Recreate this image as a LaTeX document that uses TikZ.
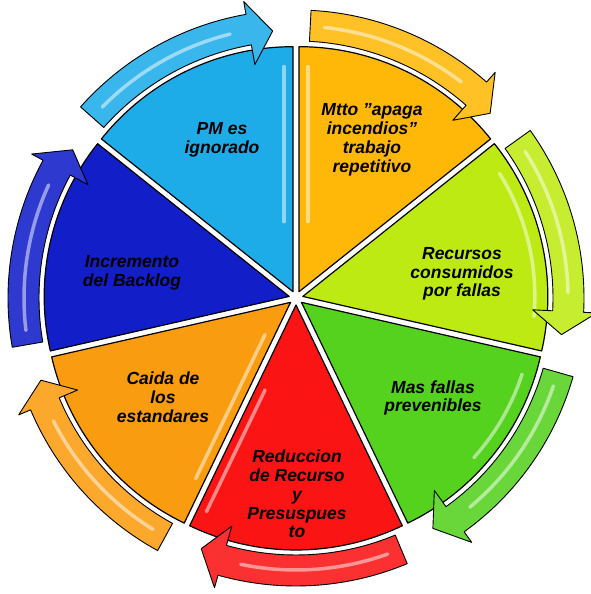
\documentclass[tikz,border=0pt]{standalone}
\usepackage{fontspec}
\setmainfont{Liberation Sans}
\usetikzlibrary{calc}
\definecolor{cPM}{RGB}{30,172,232}
\definecolor{cMtto}{RGB}{255,184,8}
\definecolor{cRec}{RGB}{190,234,20}
\definecolor{cMas}{RGB}{84,210,30}
\definecolor{cRed}{RGB}{250,20,20}
\definecolor{cCai}{RGB}{250,156,16}
\definecolor{cInc}{RGB}{18,30,200}
\tikzset{
  wedgebox/.style={draw=black, line width=1.2pt, line join=round},
  arrowshape/.style={draw=black, line width=0.9pt, line join=round},
  lbl/.style={align=center, text=black, inner sep=0pt,
    font=\fontsize{17.5}{18.8}\selectfont\bfseries\itshape},
  gloss/.style={white, opacity=0.5, line width=3.5pt, line cap=round}
}
\begin{document}
\begin{tikzpicture}[x=1pt,y=1pt]
\useasboundingbox (0,0) rectangle (590,594);
\begin{scope}[shift={(296,296)}]
  % wedges
  \foreach \k/\wc in {0/cMtto,1/cRec,2/cMas,3/cRed,4/cCai,5/cInc,6/cPM}{
    \pgfmathsetmacro\wa{90-\k*360/7}
    \pgfmathsetmacro\wb{\wa-360/7}
    \pgfmathsetmacro\wm{(\wa+\wb)/2}
    \filldraw[wedgebox, fill=\wc, shift={(\wm:7)}]
      (0,0) -- (\wa:245) arc[start angle=\wa, end angle=\wb, radius=245] -- cycle;
  }
  % glossy stripes on wedges
  \draw[gloss, shift={(115.71:7)}] (-9,70) -- (-9,225);
  \draw[gloss, shift={(64.29:7)}] (9,70) -- (9,225);
  \draw[gloss, shift={(-90:7)}] ($(-115.71:90)+(-25.71:9)$) -- ($(-115.71:225)+(-25.71:9)$);
  \draw[gloss, shift={(-141.43:7)}] ($(-115.71:40)+(-205.71:9)$) -- ($(-115.71:200)+(-205.71:9)$);
  \draw[gloss, shift={(12.86:7)}] (32:232) arc[start angle=32, end angle=-5, radius=232];
  \draw[gloss, shift={(-38.57:7)}] (-18:232) arc[start angle=-18, end angle=-42, radius=232];
  % arrows
  \foreach \k/\wc in {0/cMtto,1/cRec,2/cMas,3/cRed,4/cCai,5/cInc,6/cPM}{
    \pgfmathsetmacro\wa{90-\k*360/7}
    \pgfmathsetmacro\wb{\wa-360/7}
    \pgfmathsetmacro\aT{\wa-3}
    \pgfmathsetmacro\aH{\wb+10}
    \pgfmathsetmacro\aP{\wb+5}
    \pgfmathsetmacro\gS{\wa-6}
    \pgfmathsetmacro\gE{\wb+14}
    \filldraw[arrowshape, fill=\wc!88!white]
      (\aT:288) arc[start angle=\aT, end angle=\aH, radius=288]
      -- (\aH:301) -- (\aP:268) -- (\aH:237) -- (\aH:257)
      arc[start angle=\aH, end angle=\aT, radius=257] -- cycle;
    \draw[gloss] (\gS:272) arc[start angle=\gS, end angle=\gE, radius=272];
  }
\end{scope}
% labels
\node[lbl] (tPM)  at (222,454) {PM es\\ignorado};
\node[lbl] (tMtto) at (372,454) {Mtto "apaga\\incendios"\\trabajo\\repetitivo};
\node[lbl] (tRec) at (462,320) {Recursos\\consumidos\\por fallas};
\node[lbl] (tMas) at (433,196) {Mas fallas\\prevenibles};
\node[lbl] (tRed) at (297,100) {Reduccion\\de Recurso\\y\\Presuspues\\to};
\node[lbl] (tCai) at (163,197) {Caida de\\los\\estandares};
\node[lbl] (tInc) at (132,321) {Incremento\\del Backlog};
\end{tikzpicture}
\end{document}
